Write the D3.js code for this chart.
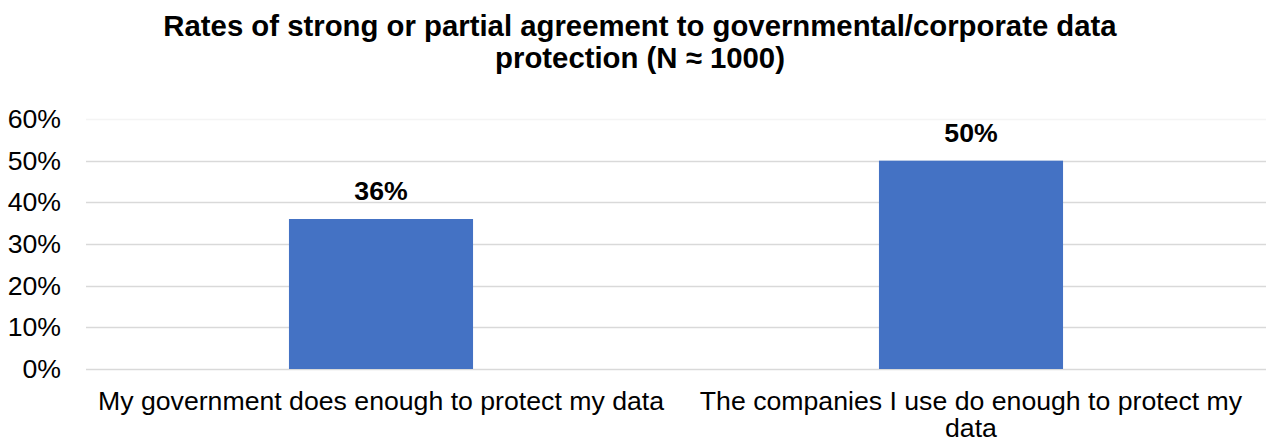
<!DOCTYPE html>
<html>
<head>
<meta charset="utf-8">
<script src="https://cdn.jsdelivr.net/npm/d3@7"></script>
<style>
  html, body { margin: 0; padding: 0; background: #fff; }
  svg { display: block; font-family: "Liberation Sans", Arial, sans-serif; }
</style>
</head>
<body>
<svg id="chart" width="1266" height="442"></svg>
<script>
const categories = [
  ["My government does enough to protect my data"],
  ["The companies I use do enough to protect my", "data"]
];
const values = [0.36, 0.50];
const yTicks = [0, 0.1, 0.2, 0.3, 0.4, 0.5, 0.6];
const titleLines = [
  "Rates of strong or partial agreement to governmental/corporate data",
  "protection (N \u2248 1000)"
];

const svg = d3.select("#chart");
const W = 1266;
const margin = { left: 86, right: 0, top: 119 };
const plotBottom = 369;
const FS = 26.67;

const x = d3.scaleBand()
  .domain(d3.range(categories.length))
  .range([margin.left, W - margin.right])
  .paddingInner(0.688)
  .paddingOuter(0.344);

const y = d3.scaleLinear().domain([0, 0.6]).range([plotBottom, margin.top]);

// Title
svg.append("g").selectAll("text")
  .data(titleLines)
  .join("text")
  .attr("x", 640)
  .attr("y", (d, i) => 36 + i * 31.5)
  .attr("text-anchor", "middle")
  .attr("font-size", 29.33)
  .attr("font-weight", "bold")
  .attr("fill", "#000")
  .text(d => d);

// Gridlines
svg.append("g").selectAll("line")
  .data(yTicks)
  .join("line")
  .attr("x1", margin.left)
  .attr("x2", W)
  .attr("y1", d => Math.round(y(d)) + 0.5)
  .attr("y2", d => Math.round(y(d)) + 0.5)
  .attr("stroke", d => d === 0.6 ? "#f4f4f4" : "#d9d9d9")
  .attr("stroke-width", 1.5);

// Y axis labels
const yAxis = d3.axisLeft(y)
  .tickValues(yTicks)
  .tickFormat(d3.format(".0%"))
  .tickSize(0)
  .tickPadding(0);
const gy = svg.append("g")
  .attr("transform", `translate(61,0)`)
  .call(yAxis);
gy.select(".domain").remove();
gy.selectAll("text")
  .attr("font-size", FS)
  .attr("font-family", "Liberation Sans, Arial, sans-serif")
  .attr("fill", "#000");

// Bars
svg.append("g").selectAll("rect")
  .data(values)
  .join("rect")
  .attr("x", (d, i) => x(i))
  .attr("width", x.bandwidth())
  .attr("y", d => y(d))
  .attr("height", d => y(0) - y(d))
  .attr("fill", "#4472C4");

// Value labels
svg.append("g").selectAll("text")
  .data(values)
  .join("text")
  .attr("x", (d, i) => x(i) + x.bandwidth() / 2)
  .attr("y", d => y(d) - 19)
  .attr("text-anchor", "middle")
  .attr("font-size", FS)
  .attr("font-weight", "bold")
  .attr("fill", "#000")
  .text(d => d3.format(".0%")(d));

// Category labels
const cat = svg.append("g").selectAll("text")
  .data(categories)
  .join("text")
  .attr("x", (d, i) => x(i) + x.bandwidth() / 2)
  .attr("y", 409.5)
  .attr("text-anchor", "middle")
  .attr("font-size", FS)
  .attr("fill", "#000");
cat.selectAll("tspan")
  .data((d, i) => d.map(t => ({ t, i })))
  .join("tspan")
  .attr("x", d => x(d.i) + x.bandwidth() / 2)
  .attr("dy", (d, j) => j === 0 ? 0 : 27.5)
  .text(d => d.t);
</script>
</body>
</html>
